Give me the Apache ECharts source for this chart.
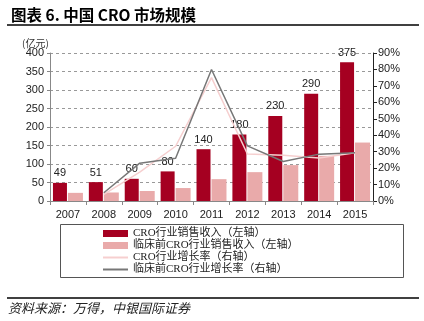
<!DOCTYPE html>
<html><head><meta charset="utf-8">
<script src="https://cdn.jsdelivr.net/npm/echarts@6/dist/echarts.min.js"></script>
<style>html,body{margin:0;padding:0;background:#fff}#c{width:424px;height:321px}</style>
</head><body><div id="c"></div>
<script>
const years = ['2007','2008','2009','2010','2011','2012','2013','2014','2015'];
const croRevenue = [49, 51, 60, 80, 140, 180, 230, 290, 375];
const preclinicalRevenue = [22, 23, 27, 35, 59, 78, 97, 122, 158];
const croGrowth = [null, 4, 17.6, 33.3, 75, 28.6, 27.8, 26.1, 29.3];
const preclinicalGrowth = [null, 5, 23, 26, 80, 33.5, 24, 28.5, 29.4];
const leftTicks = {min: 0, max: 400, interval: 50};
const rightTicks = {min: 0, max: 90, interval: 10};

const chart = echarts.init(document.getElementById('c'));
const sans = 'Liberation Sans, Arial, Noto Sans CJK SC';
const legendFont = 'Liberation Serif, Noto Sans CJK SC';
chart.setOption({
  animation: false,
  title: {
    text: '图表 6. 中国 CRO 市场规模',
    left: 6, top: 2,
    textStyle: {fontFamily: 'Noto Sans CJK SC', fontWeight: 'bold', fontSize: 15.5, color: '#000'}
  },
  graphic: [
    {type: 'line', shape: {x1: 7, y1: 25, x2: 419, y2: 25}, style: {stroke: '#000', lineWidth: 1.5}},
    {type: 'text', left: 22, top: 38, style: {text: '(亿元)', font: '10px Noto Sans CJK SC', fill: '#333'}},
    {type: 'rect', shape: {x: 60.5, y: 224.5, width: 343, height: 53}, style: {fill: 'none', stroke: '#555', lineWidth: 1}},
    {type: 'line', shape: {x1: 7, y1: 298, x2: 419, y2: 298}, style: {stroke: '#000', lineWidth: 1.5}},
    {type: 'text', left: 8, top: 302, style: {text: '资料来源：万得，中银国际证券', font: 'italic 13px Noto Sans CJK SC', fill: '#222'}}
  ],
  legend: {
    orient: 'vertical', left: 102, top: 228, itemWidth: 25, itemHeight: 7, itemGap: 1, padding: 0,
    textStyle: {fontFamily: legendFont, fontSize: 11, color: '#222'},
    data: [
      {name: 'CRO行业销售收入（左轴）', icon: 'rect'},
      {name: '临床前CRO行业销售收入（左轴）', icon: 'rect'},
      {name: 'CRO行业增长率（右轴）', itemStyle: {opacity: 0}},
      {name: '临床前CRO行业增长率（右轴）', itemStyle: {opacity: 0}}
    ]
  },
  grid: {left: 50, right: 51, top: 53, bottom: 120},
  xAxis: {
    type: 'category', data: years,
    axisLine: {lineStyle: {color: '#888'}},
    axisTick: {show: true, alignWithLabel: false, length: 4, lineStyle: {color: '#888'}},
    axisLabel: {fontFamily: sans, fontSize: 11, color: '#222', margin: 8}
  },
  yAxis: [
    {
      type: 'value', min: leftTicks.min, max: leftTicks.max, interval: leftTicks.interval,
      axisLine: {show: true, lineStyle: {color: '#888'}},
      axisTick: {show: true, inside: false, length: 3, lineStyle: {color: '#888'}},
      axisLabel: {fontFamily: sans, fontSize: 11, color: '#222', margin: 6},
      splitLine: {show: true, lineStyle: {color: '#999', type: [3, 3]}}
    },
    {
      type: 'value', min: rightTicks.min, max: rightTicks.max, interval: rightTicks.interval,
      position: 'right',
      axisLine: {show: true, lineStyle: {color: '#222'}},
      axisTick: {show: true, length: 4, lineStyle: {color: '#222'}},
      axisLabel: {fontFamily: sans, fontSize: 11, color: '#222', margin: 5, formatter: '{value}%'},
      splitLine: {show: false}
    }
  ],
  series: [
    {
      name: 'CRO行业销售收入（左轴）', type: 'bar', data: croRevenue, yAxisIndex: 0,
      barWidth: 14, barGap: '7%',
      itemStyle: {color: '#a50021'},
      label: {show: true, position: 'top', distance: 4, fontFamily: sans, fontSize: 11, color: '#222'}
    },
    {
      name: '临床前CRO行业销售收入（左轴）', type: 'bar', data: preclinicalRevenue, yAxisIndex: 0,
      barWidth: 15,
      itemStyle: {color: '#e9aaaa'}
    },
    {
      name: 'CRO行业增长率（右轴）', type: 'line', data: croGrowth, yAxisIndex: 1,
      symbol: 'none', lineStyle: {color: '#f6cfcf', width: 1.5}, itemStyle: {color: '#f6cfcf'}
    },
    {
      name: '临床前CRO行业增长率（右轴）', type: 'line', data: preclinicalGrowth, yAxisIndex: 1,
      symbol: 'none', lineStyle: {color: '#777', width: 1.5}, itemStyle: {color: '#777'}
    }
  ]
});
</script></body></html>
